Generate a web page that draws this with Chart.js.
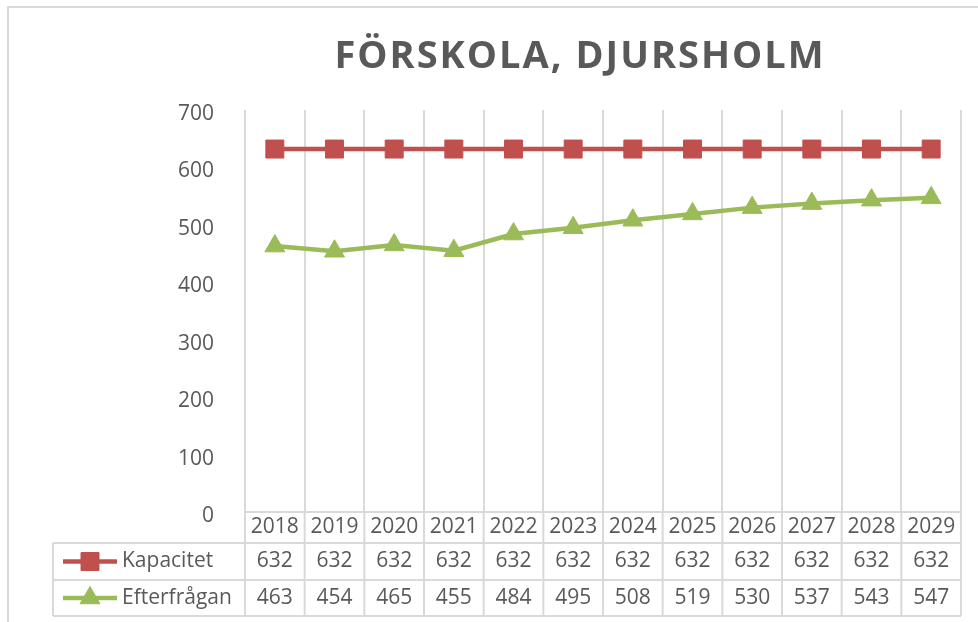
<!DOCTYPE html>
<html>
<head>
<meta charset="utf-8">
<script src="https://cdn.jsdelivr.net/npm/chart.js@4"></script>
<style>
  html, body { margin: 0; padding: 0; background: #fff; }
  #wrap { width: 978px; height: 622px; }
</style>
</head>
<body>
<div id="wrap"><canvas id="chart" width="978" height="622"></canvas></div>
<script>
'use strict'

const title = 'FÖRSKOLA, DJURSHOLM';
const years = ['2018', '2019', '2020', '2021', '2022', '2023', '2024', '2025', '2026', '2027', '2028', '2029'];
const kapacitet = [632, 632, 632, 632, 632, 632, 632, 632, 632, 632, 632, 632];
const efterfragan = [463, 454, 465, 455, 484, 495, 508, 519, 530, 537, 543, 547];
const seriesNames = ['Kapacitet', 'Efterfrågan'];

const RED = '#C0504D';
const GREEN = '#9BBB59';
const GRID = '#D9D9D9';
const TEXT = '#595959';
const FONT = '"Open Sans", sans-serif';

// outer frame + title
const framePlugin = {
  id: 'frame',
  beforeDraw(chart) {
    const c = chart.ctx;
    c.save();
    c.fillStyle = '#fff';
    c.fillRect(0, 0, chart.width, chart.height);
    c.strokeStyle = GRID;
    c.lineWidth = 2;
    c.strokeRect(8, 7, chart.width + 20, chart.height + 20);
    c.fillStyle = TEXT;
    c.font = 'bold 38px ' + FONT;
    c.letterSpacing = '2px';
    c.textAlign = 'center';
    c.textBaseline = 'alphabetic';
    c.fillText(title, 580, 68);
    c.restore();
  }
};

// data table under the plot, columns taken from the x scale
const tablePlugin = {
  id: 'datatable',
  afterDraw(chart) {
    const c = chart.ctx;
    const x = chart.scales.x;
    const area = chart.chartArea;
    const colW = x.width / years.length;
    const rowTop = area.bottom;
    const rows = [rowTop, 543, 580, 616];
    const legendLeft = 53;

    c.save();
    c.strokeStyle = GRID;
    c.lineWidth = 2;
    c.beginPath();
    for (let i = 0; i <= years.length; i++) {
      const bx = x.left + i * colW;
      c.moveTo(bx, rowTop);
      c.lineTo(bx, rows[3]);
    }
    for (let r = 1; r < rows.length; r++) {
      c.moveTo(legendLeft, rows[r]);
      c.lineTo(x.right, rows[r]);
    }
    c.moveTo(legendLeft, rows[1]);
    c.lineTo(legendLeft, rows[3]);
    c.stroke();

    c.fillStyle = TEXT;
    c.font = '21px ' + FONT;
    c.textAlign = 'center';
    c.textBaseline = 'middle';
    const values = [kapacitet, efterfragan];
    years.forEach((yr, i) => {
      const cx = x.getPixelForValue(i);
      c.fillText(yr, cx, (rows[0] + rows[1]) / 2);
      values.forEach((arr, r) => {
        c.fillText(String(arr[i]), cx, (rows[r + 1] + rows[r + 2]) / 2);
      });
    });

    // legend keys
    const colors = [RED, GREEN];
    const styles = ['rect', 'triangle'];
    const radii = [12.7, 11.5];
    seriesNames.forEach((name, r) => {
      const cy = (rows[r + 1] + rows[r + 2]) / 2;
      c.strokeStyle = colors[r];
      c.lineWidth = 4.5;
      c.beginPath();
      c.moveTo(63, cy);
      c.lineTo(117, cy);
      c.stroke();
      c.fillStyle = colors[r];
      c.lineWidth = 1;
      Chart.helpers.drawPoint(c, { pointStyle: styles[r], radius: radii[r], borderWidth: 1 }, 90, cy);
      c.fillStyle = TEXT;
      c.textAlign = 'left';
      c.fillText(name, 122, cy);
    });
    c.restore();
  }
};

const ctx = document.getElementById('chart');
new Chart(ctx, {
  type: 'line',
  data: {
    labels: years,
    datasets: [{
      label: seriesNames[0],
      data: kapacitet,
      borderColor: RED,
      backgroundColor: RED,
      borderWidth: 4.5,
      pointStyle: 'rect',
      pointRadius: 12.7,
      pointBorderWidth: 1,
      tension: 0
    }, {
      label: seriesNames[1],
      data: efterfragan,
      borderColor: GREEN,
      backgroundColor: GREEN,
      borderWidth: 4.5,
      pointStyle: 'triangle',
      pointRadius: 11.5,
      pointBorderWidth: 1,
      tension: 0
    }]
  },
  options: {
    responsive: false,
    animation: false,
    layout: {
      padding: { top: 110, right: 17, bottom: 110, left: 0 }
    },
    scales: {
      x: {
        offset: true,
        grid: { color: GRID, lineWidth: 2, offset: true, drawTicks: false },
        border: { color: GRID, width: 2 },
        ticks: { display: false },
        afterFit: s => { s.height = 0; }
      },
      y: {
        min: 0,
        max: 700,
        grid: { display: false },
        border: { display: false },
        ticks: {
          stepSize: 100,
          color: TEXT,
          padding: 23,
          labelOffset: 4,
          font: { family: FONT, size: 21 }
        },
        afterFit: s => { s.width = 245; }
      }
    },
    plugins: {
      legend: { display: false },
      title: { display: false },
      tooltip: { enabled: false }
    }
  },
  plugins: [framePlugin, tablePlugin]
});
</script>
</body>
</html>
